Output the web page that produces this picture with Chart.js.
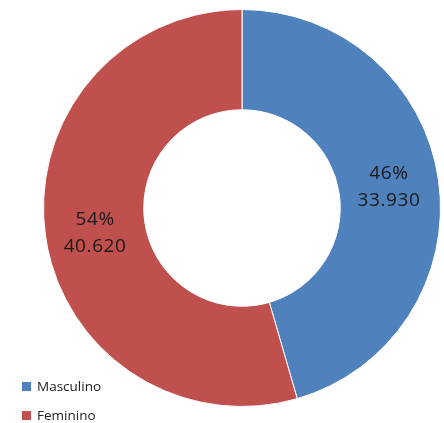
<!DOCTYPE html>
<html>
<head>
<meta charset="utf-8">
<script src="https://cdn.jsdelivr.net/npm/chart.js@4.4.1/dist/chart.umd.min.js"></script>
<style>
  html, body { margin: 0; padding: 0; background: #fff; }
  #wrap { position: relative; width: 444px; height: 423px; }
  #legend { position: absolute; left: 22px; top: 377px; font-family: "Open Sans", "Noto Sans", sans-serif; font-size: 13.5px; color: #222; }
  #legend div { height: 29px; line-height: 19px; }
  #legend span.box { display: inline-block; width: 9px; height: 9px; margin-right: 6px; }
</style>
</head>
<body>
<div id="wrap">
  <canvas id="genero" width="444" height="423"></canvas>
  <div id="legend"></div>
</div>
<script>
var labels = ['Masculino', 'Feminino'];
var values = [33930, 40620];
var colors = ['#4F81BD', '#C0504D'];

var total = values.reduce(function (a, b) { return a + b; }, 0);

function fmt(n) {
  return n.toString().replace(/\B(?=(\d{3})+(?!\d))/g, '.');
}

// legend as html
var legend = document.getElementById('legend');
labels.forEach(function (l, i) {
  var row = document.createElement('div');
  row.innerHTML = '<span class="box" style="background:' + colors[i] + '"></span>' + l;
  legend.appendChild(row);
});

// draws "xx%" and the value inside each slice
var sliceLabels = {
  id: 'sliceLabels',
  afterDatasetsDraw: function (chart, args, opts) {
    var ctx = chart.ctx;
    var meta = chart.getDatasetMeta(0);
    ctx.save();
    ctx.font = opts.size + 'px ' + opts.family;
    ctx.letterSpacing = opts.spacing;
    ctx.fillStyle = opts.color;
    ctx.textAlign = 'center';
    ctx.textBaseline = 'middle';
    meta.data.forEach(function (arc, i) {
      var p = arc.tooltipPosition();
      var dy = (opts.shiftY && opts.shiftY[i]) || 0;
      var pct = Math.round(values[i] / total * 100) + '%';
      ctx.fillText(pct, p.x, p.y + dy - opts.lineHeight / 2);
      ctx.fillText(fmt(values[i]), p.x, p.y + dy + opts.lineHeight / 2);
    });
    ctx.restore();
  }
};

var ctx = document.getElementById('genero').getContext('2d');
var chart = new Chart(ctx, {
  type: 'doughnut',
  data: {
    labels: labels,
    datasets: [{
      data: values,
      backgroundColor: colors,
      borderColor: '#ffffff',
      borderWidth: 1
    }]
  },
  options: {
    responsive: false,
    animation: false,
    cutout: '49.5%',
    layout: { padding: { left: 43, right: 3, top: 9, bottom: 16 } },
    plugins: {
      legend: { display: false },
      tooltip: { enabled: false },
      sliceLabels: {
        family: '"Open Sans", "Noto Sans", sans-serif',
        size: 19,
        spacing: '0.6px',
        color: '#1a1a1a',
        lineHeight: 27,
        shiftY: [0, 4]
      }
    }
  },
  plugins: [sliceLabels]
});
</script>
</body>
</html>
